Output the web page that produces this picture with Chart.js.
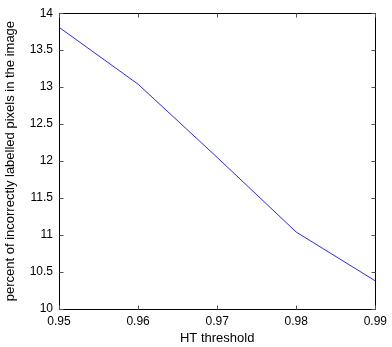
<!DOCTYPE html>
<html>
<head>
<meta charset="utf-8">
<script src="https://cdn.jsdelivr.net/npm/chart.js@4/dist/chart.umd.min.js"></script>
<style>
  html, body { margin: 0; padding: 0; background: #fff; }
  #chart { display: block; }
</style>
</head>
<body>
<canvas id="chart" width="392" height="347"></canvas>
<script>
// Datos
const thresholds = [0.95, 0.96, 0.97, 0.98, 0.99];
const percentWrong = [13.81, 13.04, 12.05, 11.04, 10.38];
const xTicks = [0.95, 0.96, 0.97, 0.98, 0.99];
const yTicks = [10, 10.5, 11, 11.5, 12, 12.5, 13, 13.5, 14];

const fontFamily = '"Liberation Sans", Arial, sans-serif';

// Marco y marcas hacia dentro, estilo MATLAB
const frameBox = {
    id: 'frameBox',
    afterDraw(chart) {
        const c = chart.ctx;
        const a = chart.chartArea;
        const xs = chart.scales.x;
        const ys = chart.scales.y;
        const L = Math.round(a.left) + 0.5, R = Math.round(a.right) + 0.5;
        const T = Math.round(a.top) + 0.5, B = Math.round(a.bottom) + 0.5;
        c.save();
        c.strokeStyle = '#000';
        c.lineWidth = 1;
        c.strokeRect(L, T, R - L, B - T);
        c.strokeStyle = '#555';
        c.beginPath();
        xTicks.forEach(v => {
            const px = Math.round(xs.getPixelForValue(v)) + 0.5;
            c.moveTo(px, B); c.lineTo(px, B - 4);
            c.moveTo(px, T); c.lineTo(px, T + 4);
        });
        yTicks.forEach(v => {
            const py = Math.round(ys.getPixelForValue(v)) + 0.5;
            c.moveTo(L, py); c.lineTo(L + 4, py);
            c.moveTo(R, py); c.lineTo(R - 4, py);
        });
        c.stroke();
        c.restore();
    }
};

new Chart(document.getElementById('chart').getContext('2d'), {
    type: 'line',
    data: {
        datasets: [{
            data: thresholds.map((t, i) => ({ x: t, y: percentWrong[i] })),
            borderColor: '#2a2aff',
            borderWidth: 1,
            pointRadius: 0,
            fill: false,
            tension: 0
        }]
    },
    options: {
        responsive: false,
        animation: false,
        layout: { padding: { top: 12, right: 4, left: 0, bottom: 0 } },
        plugins: { legend: { display: false }, tooltip: { enabled: false } },
        scales: {
            x: {
                type: 'linear',
                min: 0.95,
                max: 0.99,
                afterFit(scale) { scale.height = 38; },
                afterBuildTicks(scale) { scale.ticks = xTicks.map(v => ({ value: v })); },
                grid: { display: false, drawTicks: false },
                border: { display: false },
                ticks: {
                    padding: 5,
                    maxRotation: 0,
                    color: '#000',
                    font: { family: fontFamily, size: 12 },
                    callback: v => v.toFixed(2)
                },
                title: {
                    display: true,
                    text: 'HT threshold',
                    color: '#000',
                    font: { family: fontFamily, size: 13 },
                    padding: { top: 0, bottom: 1 }
                }
            },
            y: {
                type: 'linear',
                min: 10,
                max: 14,
                afterFit(scale) { scale.width = 59; },
                afterBuildTicks(scale) { scale.ticks = yTicks.map(v => ({ value: v })); },
                grid: { display: false, drawTicks: false },
                border: { display: false },
                ticks: {
                    padding: 6,
                    color: '#000',
                    font: { family: fontFamily, size: 12 },
                    callback: v => String(v)
                },
                title: {
                    display: true,
                    text: 'percent of incorrectly labelled pixels in the image',
                    color: '#000',
                    font: { family: fontFamily, size: 13 },
                    padding: { top: 3, bottom: 0 }
                }
            }
        }
    },
    plugins: [frameBox]
});
</script>
</body>
</html>
